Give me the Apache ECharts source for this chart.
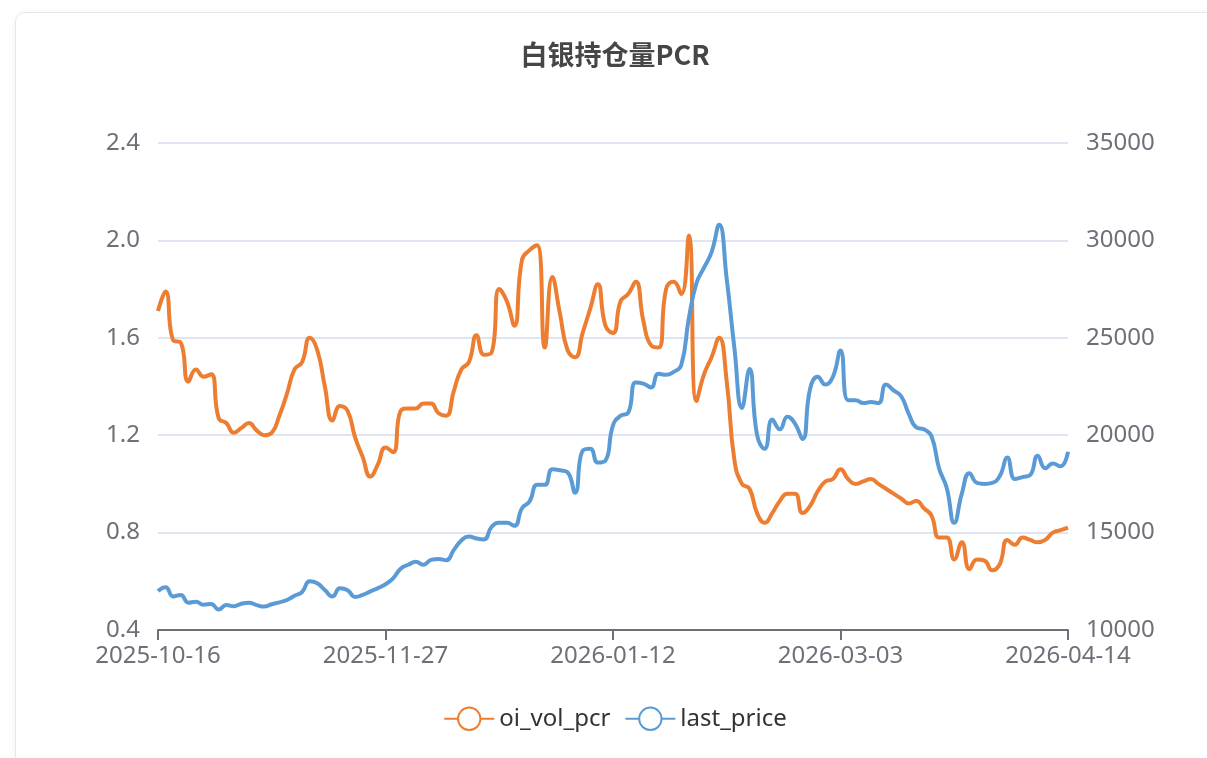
<!DOCTYPE html>
<html>
<head>
<meta charset="utf-8">
<title>白银持仓量PCR</title>
<script src="https://cdn.jsdelivr.net/npm/echarts@6/dist/echarts.min.js"></script>
<style>
  html, body {
    margin: 0;
    padding: 0;
    width: 1207px;
    height: 758px;
    overflow: hidden;
    background: #fff;
  }
  .card {
    position: absolute;
    left: 15px;
    top: 12px;
    width: 1260px;
    height: 800px;
    border: 1px solid #e4e7ed;
    border-radius: 10px;
    box-shadow: 0 2px 8px rgba(0, 0, 0, 0.06);
    background: #fff;
  }
  #chart {
    position: absolute;
    left: 0;
    top: 0;
    width: 1230px;
    height: 758px;
  }
</style>
</head>
<body>
<div class="card"></div>
<div id="chart"></div>
<script>
// trading days shown on the x axis
const dates = [
  '2025-10-16', '2025-10-17', '2025-10-20', '2025-10-21', '2025-10-22', '2025-10-23', '2025-10-24',
  '2025-10-27', '2025-10-28', '2025-10-29', '2025-10-30', '2025-10-31',
  '2025-11-03', '2025-11-04', '2025-11-05', '2025-11-06', '2025-11-07',
  '2025-11-10', '2025-11-11', '2025-11-12', '2025-11-13', '2025-11-14',
  '2025-11-17', '2025-11-18', '2025-11-19', '2025-11-20', '2025-11-21',
  '2025-11-24', '2025-11-25', '2025-11-26', '2025-11-27', '2025-11-28',
  '2025-12-01', '2025-12-02', '2025-12-03', '2025-12-04', '2025-12-05',
  '2025-12-08', '2025-12-09', '2025-12-10', '2025-12-11', '2025-12-12',
  '2025-12-15', '2025-12-16', '2025-12-17', '2025-12-18', '2025-12-19',
  '2025-12-22', '2025-12-23', '2025-12-24', '2025-12-25', '2025-12-26',
  '2025-12-29', '2025-12-30', '2025-12-31',
  '2026-01-05', '2026-01-06', '2026-01-07', '2026-01-08', '2026-01-09',
  '2026-01-12', '2026-01-13', '2026-01-14', '2026-01-15', '2026-01-16',
  '2026-01-19', '2026-01-20', '2026-01-21', '2026-01-22', '2026-01-23',
  '2026-01-26', '2026-01-27', '2026-01-28', '2026-01-29', '2026-01-30',
  '2026-02-02', '2026-02-03', '2026-02-04', '2026-02-05', '2026-02-06',
  '2026-02-09', '2026-02-10', '2026-02-11', '2026-02-12', '2026-02-13',
  '2026-02-24', '2026-02-25', '2026-02-26', '2026-02-27',
  '2026-03-02', '2026-03-03', '2026-03-04', '2026-03-05', '2026-03-06',
  '2026-03-09', '2026-03-10', '2026-03-11', '2026-03-12', '2026-03-13',
  '2026-03-16', '2026-03-17', '2026-03-18', '2026-03-19', '2026-03-20',
  '2026-03-23', '2026-03-24', '2026-03-25', '2026-03-26', '2026-03-27',
  '2026-03-30', '2026-03-31', '2026-04-01', '2026-04-02', '2026-04-03',
  '2026-04-06', '2026-04-07', '2026-04-08', '2026-04-09', '2026-04-10',
  '2026-04-13', '2026-04-14'
]

const oiVolPcr = [
  1.71, 1.79, 1.59, 1.58, 1.42, 1.47, 1.44, 1.45, 1.27, 1.25,
  1.21, 1.23, 1.25, 1.22, 1.20, 1.21, 1.28, 1.37, 1.47, 1.50,
  1.60, 1.55, 1.40, 1.26, 1.32, 1.30, 1.19, 1.11, 1.03, 1.08,
  1.15, 1.13, 1.30, 1.31, 1.31, 1.33, 1.33, 1.29, 1.28, 1.38,
  1.47, 1.50, 1.61, 1.53, 1.54, 1.80, 1.75, 1.65, 1.92, 1.96,
  1.98, 1.56, 1.85, 1.70, 1.55, 1.52, 1.62, 1.72, 1.82, 1.65,
  1.62, 1.75, 1.78, 1.83, 1.67, 1.57, 1.56, 1.80, 1.83, 1.78,
  2.02, 1.34, 1.45, 1.52, 1.60, 1.42, 1.10, 1.00, 0.98, 0.88,
  0.84, 0.88, 0.93, 0.96, 0.96, 0.88, 0.91, 0.97, 1.01, 1.02,
  1.06, 1.02, 1.00, 1.01, 1.02, 1.00, 0.98, 0.96, 0.94, 0.92,
  0.93, 0.90, 0.87, 0.78, 0.78, 0.69, 0.76, 0.65, 0.69, 0.685,
  0.645, 0.67, 0.77, 0.75, 0.78, 0.77, 0.76, 0.77, 0.80, 0.81,
  0.82
]

const lastPrice = [
  12000, 12200, 11720, 11800, 11400, 11450, 11300, 11340, 11050, 11280,
  11220, 11350, 11400, 11280, 11200, 11320, 11420, 11540, 11760, 11950,
  12500, 12400, 12050, 11720, 12140, 12040, 11700, 11800, 11980, 12150,
  12350, 12650, 13150, 13350, 13500, 13350, 13600, 13650, 13580, 14100,
  14600, 14800, 14700, 14650, 15300, 15500, 15500, 15350, 16250, 16600,
  17450, 17450, 18250, 18200, 18100, 17050, 19200, 19300, 18600, 18700,
  20500, 21000, 21150, 22700, 22650, 22450, 23150, 23100, 23250, 23600,
  26000, 27800, 28600, 29400, 30800, 28000, 24500, 21400, 23400, 20000,
  19300, 20800, 20300, 20950, 20600, 19800, 22400, 23000, 22600, 23000,
  24350, 21800, 21800, 21650, 21700, 21650, 22600, 22300, 22000, 21100,
  20400, 20300, 19950, 18300, 17300, 15500, 17000, 18050, 17550, 17500,
  17550, 17900, 18850, 17750, 17850, 17950, 18950, 18300, 18550, 18400,
  19150
]

const chart = echarts.init(document.getElementById('chart'))

const labelFont = {
  color: '#6E7079',
  fontSize: 24,
  fontFamily: '"Noto Sans", "Noto Sans CJK SC", sans-serif',
}

const option = {
  title: {
    text: '白银持仓量PCR',
    left: 'center',
    top: 36,
    textStyle: {
      fontSize: 27,
      fontWeight: 'bold',
      color: '#464646',
      fontFamily: '"Noto Sans CJK SC", sans-serif',
    },
  },
  legend: {
    bottom: 22,
    left: 'center',
    itemWidth: 50,
    itemHeight: 28,
    itemGap: 14,
    textStyle: {
      fontSize: 24,
      color: '#333',
      fontFamily: '"Noto Sans", sans-serif',
    },
    data: ['oi_vol_pcr', 'last_price'],
  },
  grid: {
    left: 158,
    right: 162,
    top: 143,
    bottom: 128,
  },
  xAxis: {
    type: 'category',
    boundaryGap: false,
    data: dates,
    axisLine: { lineStyle: { color: '#6E7079', width: 2 } },
    axisTick: { interval: 29, length: 10, lineStyle: { width: 2 } },
    axisLabel: { ...labelFont, interval: 29, margin: 14 },
  },
  yAxis: [
    {
      type: 'value',
      min: 0.4,
      max: 2.4,
      interval: 0.4,
      axisLabel: {
        ...labelFont,
        margin: 18,
        formatter: (v) => v.toFixed(1),
      },
      splitLine: { lineStyle: { color: '#E0E6F1', width: 2 } },
    },
    {
      type: 'value',
      min: 10000,
      max: 35000,
      interval: 5000,
      axisLabel: { ...labelFont, margin: 18, formatter: (v) => String(v) },
      splitLine: { show: false },
    },
  ],
  series: [
    {
      name: 'oi_vol_pcr',
      type: 'line',
      yAxisIndex: 0,
      data: oiVolPcr,
      smooth: true,
      showSymbol: false,
      symbol: 'emptyCircle',
      symbolSize: 14,
      itemStyle: { color: '#ED7D31', borderWidth: 4 },
      lineStyle: { color: '#ED7D31', width: 4 },
    },
    {
      name: 'last_price',
      type: 'line',
      yAxisIndex: 1,
      data: lastPrice,
      smooth: true,
      showSymbol: false,
      symbol: 'emptyCircle',
      symbolSize: 14,
      itemStyle: { color: '#5B9BD5', borderWidth: 4 },
      lineStyle: { color: '#5B9BD5', width: 4 },
    },
  ],
}

chart.setOption(option)
</script>
</body>
</html>
